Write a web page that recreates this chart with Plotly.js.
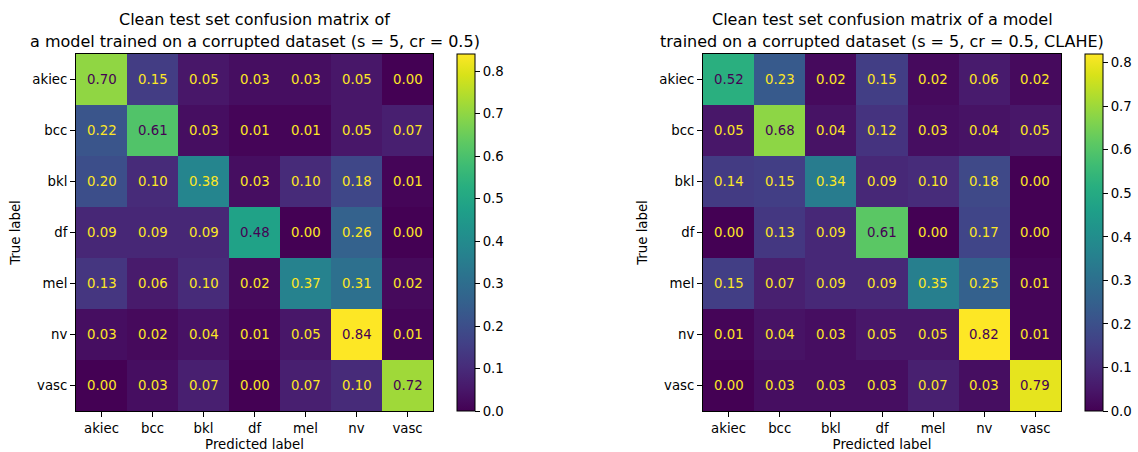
<!DOCTYPE html>
<html>
<head>
<meta charset="utf-8">
<script src="https://cdn.plot.ly/plotly-3.0.1.min.js"></script>
<style>html,body{margin:0;padding:0;background:#fff;}#chart{width:1138px;height:452px;}</style>
</head>
<body>
<div id="chart"></div>
<script>
const labels = ["akiec", "bcc", "bkl", "df", "mel", "nv", "vasc"];

const titleLeft = ["Clean test set confusion matrix of", "a model trained on a corrupted dataset (s = 5, cr = 0.5)"];
const titleRight = ["Clean test set confusion matrix of a model", "trained on a corrupted dataset (s = 5, cr = 0.5, CLAHE)"];

const matrixLeft = [
  [0.70, 0.15, 0.05, 0.03, 0.03, 0.05, 0.00],
  [0.22, 0.61, 0.03, 0.01, 0.01, 0.05, 0.07],
  [0.20, 0.10, 0.38, 0.03, 0.10, 0.18, 0.01],
  [0.09, 0.09, 0.09, 0.48, 0.00, 0.26, 0.00],
  [0.13, 0.06, 0.10, 0.02, 0.37, 0.31, 0.02],
  [0.03, 0.02, 0.04, 0.01, 0.05, 0.84, 0.01],
  [0.00, 0.03, 0.07, 0.00, 0.07, 0.10, 0.72]
];

const matrixRight = [
  [0.52, 0.23, 0.02, 0.15, 0.02, 0.06, 0.02],
  [0.05, 0.68, 0.04, 0.12, 0.03, 0.04, 0.05],
  [0.14, 0.15, 0.34, 0.09, 0.10, 0.18, 0.00],
  [0.00, 0.13, 0.09, 0.61, 0.00, 0.17, 0.00],
  [0.15, 0.07, 0.09, 0.09, 0.35, 0.25, 0.01],
  [0.01, 0.04, 0.03, 0.05, 0.05, 0.82, 0.01],
  [0.00, 0.03, 0.03, 0.03, 0.07, 0.03, 0.79]
];

const W = 1138, H = 452;
const FONT = "DejaVu Sans, sans-serif";
const FS = 13.3;
const DARK = "#440154", LIGHT = "#fde725";

function px2x(p){ return p / W; }
function px2y(p){ return 1 - p / H; }

const panels = [
  {m: matrixLeft, title: titleLeft, x0: 76, x1: 433, cb: 457, xa: "x", ya: "y"},
  {m: matrixRight, title: titleRight, x0: 703, x1: 1061, cb: 1085, xa: "x2", ya: "y2"}
];
const plotTop = 54, plotBottom = 411;
const titleLineY = [20, 41.5];

const data = [];
const annotations = [];

panels.forEach((p, i) => {
  const zmax = Math.max(...p.m.flat());
  const zmin = 0;
  const thr = (zmax + zmin) / 2;
  data.push({
    type: "heatmap",
    z: p.m,
    x: labels,
    y: labels,
    xaxis: p.xa,
    yaxis: p.ya,
    colorscale: "Viridis",
    zmin: zmin,
    zmax: zmax,
    xgap: 0, ygap: 0,
    colorbar: {
      x: px2x(p.cb), xanchor: "left", xref: "paper",
      y: px2y((plotTop + plotBottom) / 2), yanchor: "middle",
      thickness: 18, thicknessmode: "pixels",
      len: plotBottom - plotTop, lenmode: "pixels",
      xpad: 0, ypad: 0,
      outlinewidth: 1, outlinecolor: "#000",
      tickmode: "linear", tick0: 0, dtick: 0.1, tickformat: ".1f",
      ticks: "outside", ticklen: 5, tickwidth: 1, tickcolor: "#000",
      tickfont: {family: FONT, size: FS, color: "#000"}
    }
  });
  p.m.forEach((row, r) => {
    row.forEach((v, c) => {
      annotations.push({
        x: labels[c], y: labels[r], xref: p.xa, yref: p.ya,
        text: v.toFixed(2), showarrow: false,
        font: {family: FONT, size: FS, color: v >= thr ? DARK : LIGHT}
      });
    });
  });
  p.title.forEach((line, k) => {
    annotations.push({
      x: px2x((p.x0 + p.x1) / 2), y: px2y(titleLineY[k]), xref: "paper", yref: "paper",
      xanchor: "center", yanchor: "middle", showarrow: false,
      text: line, align: "center",
      font: {family: FONT, size: 16, color: "#000"}
    });
  });
});

function xaxis(p, anchor){
  return {
    domain: [px2x(p.x0), px2x(p.x1)], anchor: anchor,
    type: "category", categoryorder: "array", categoryarray: labels,
    showline: true, mirror: true, linecolor: "#000", linewidth: 1,
    ticks: "outside", ticklen: 5, tickcolor: "#000",
    tickfont: {family: FONT, size: FS, color: "#000"},
    showgrid: false, zeroline: false, fixedrange: true,
    title: {text: "Predicted label", standoff: 4, font: {family: FONT, size: FS, color: "#000"}},
    automargin: false
  };
}
function yaxis(p, anchor){
  return {
    domain: [px2y(plotBottom), px2y(plotTop)], anchor: anchor,
    type: "category", categoryorder: "array", categoryarray: labels,
    autorange: "reversed",
    showline: true, mirror: true, linecolor: "#000", linewidth: 1,
    ticks: "outside", ticklen: 5, tickcolor: "#000",
    tickfont: {family: FONT, size: FS, color: "#000"},
    showgrid: false, zeroline: false, fixedrange: true,
    title: {text: "True label", standoff: 8, font: {family: FONT, size: FS, color: "#000"}},
    automargin: false
  };
}

const layout = {
  width: W, height: H,
  margin: {l: 0, r: 0, t: 0, b: 0},
  paper_bgcolor: "#fff", plot_bgcolor: "#fff",
  font: {family: FONT, size: FS, color: "#000"},
  showlegend: false,
  xaxis: xaxis(panels[0], "y"),
  yaxis: yaxis(panels[0], "x"),
  xaxis2: xaxis(panels[1], "y2"),
  yaxis2: yaxis(panels[1], "x2"),
  annotations: annotations
};

Plotly.newPlot("chart", data, layout, {displayModeBar: false, staticPlot: true});
</script>
</body>
</html>
